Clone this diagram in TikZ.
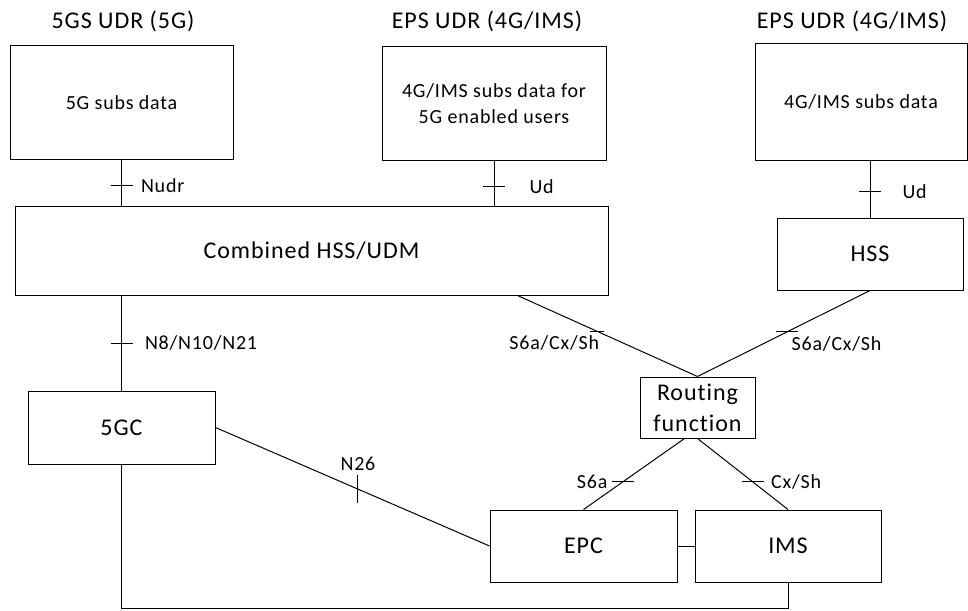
\documentclass[tikz,border=0pt]{standalone}
\usepackage{fontspec}
\setmainfont{Carlito}[LetterSpace=4, Ligatures=NoCommon]
\usetikzlibrary{positioning, calc}

\begin{document}
\begin{tikzpicture}[x=1pt, y=-1pt, line width=1pt,
  every node/.style = {align=center, inner sep=0pt},
  box/.style = {draw, rectangle, font=\fontsize{20}{26}\selectfont},
  bigbox/.style = {draw, rectangle, font=\fontsize{24}{31}\selectfont},
  title/.style = {font=\fontsize{24}{30}\selectfont},
  iface/.style = {font=\fontsize{20}{24}\selectfont}]
  \useasboundingbox (0,0) rectangle (968,610);

  % UDR titles and data stores
  \node[title] (sgtitle) at (123,21) {5GS UDR (5G)};
  \node[title] (epsatitle) at (487,21) {EPS UDR (4G/IMS)};
  \node[title] (epsbtitle) at (852,21) {EPS UDR (4G/IMS)};
  \node[box, minimum width=223pt, minimum height=113pt] (sgdata) at (121.5,102.5) {5G subs data};
  \node[box, minimum width=224pt, minimum height=113pt] (epsadata) at (494,103.5) {4G/IMS subs data for\\5G enabled users};
  \node[box, minimum width=212pt, minimum height=116pt] (epsbdata) at (861,102) {4G/IMS subs data};

  % front ends
  \node[bigbox, minimum width=593pt, minimum height=89pt] (hssudm) at (311.5,250.5) {Combined HSS/UDM};
  \node[bigbox, minimum width=186pt, minimum height=72pt] (hss) at (870,254) {HSS};
  \node[bigbox, minimum width=187pt, minimum height=73pt] (fivegc) at (121.5,427.5) {5GC};
  \node[bigbox, minimum width=115pt, minimum height=61pt] (routing) at (697.5,407.5) {Routing\\function};
  \node[bigbox, minimum width=187pt, minimum height=72pt] (epc) at (583.5,546) {EPC};
  \node[bigbox, minimum width=186pt, minimum height=72pt] (ims) at (788,546) {IMS};

  % interfaces
  \draw (sgdata.south) -- coordinate[pos=.57] (tnudr) (sgdata.south |- hssudm.north);
  \draw (tnudr) +(-11,0) -- +(11,0);
  \node[iface, right=19pt of tnudr] (lnudr) {Nudr};

  \draw (epsadata.south) -- coordinate[pos=.57] (tuda) (epsadata.south |- hssudm.north);
  \draw (tuda) +(-11,0) -- +(11,0);
  \node[iface, right=35pt of tuda] (luda) {Ud};

  \draw (hss.north |- epsbdata.south) -- coordinate[pos=.55] (tudb) (hss.north);
  \draw (tudb) +(-11,0) -- +(11,0);
  \node[iface, right=32pt of tudb] (ludb) {Ud};

  \draw (hssudm.south -| fivegc.north) -- coordinate[pos=.5] (tn8) (fivegc.north);
  \draw (tn8) +(-11,0) -- +(11,0);
  \node[iface, right=23pt of tn8] (ln8) {N8/N10/N21};

  \draw (fivegc.east) -- coordinate[pos=.52] (tn26) (epc.west);
  \draw (tn26) +(0,-14) -- +(0,14);
  \node[iface, above=18pt of tn26] (ln26) {N26};

  \draw ([xshift=206pt]hssudm.south) -- coordinate[pos=.44] (tsl) (routing.north);
  \draw (tsl) +(-7,0) -- +(7,0);
  \node[iface, below left=4pt and -3pt of tsl] (lsl) {S6a/Cx/Sh};

  \draw (hss.south) -- coordinate[pos=.48] (tsr) (routing.north);
  \draw (tsr) +(-11,0) -- +(11,0);
  \node[iface, below right=4pt and 4pt of tsr] (lsr) {S6a/Cx/Sh};

  \draw ([xshift=-13pt]routing.south) -- coordinate[pos=.61] (ts6a) (epc.north);
  \draw (ts6a) +(-11,0) -- +(11,0);
  \node[iface, left=15pt of ts6a] (ls6a) {S6a};

  \draw (routing.south) -- coordinate[pos=.61] (tcx) (ims.north);
  \draw (tcx) +(-11,0) -- +(11,0);
  \node[iface, right=18pt of tcx] (lcx) {Cx/Sh};

  \draw (epc.east) -- (ims.west);
  \draw (fivegc.south) -- (fivegc.south |- 0,608) -| (ims.south);
\end{tikzpicture}
\end{document}
